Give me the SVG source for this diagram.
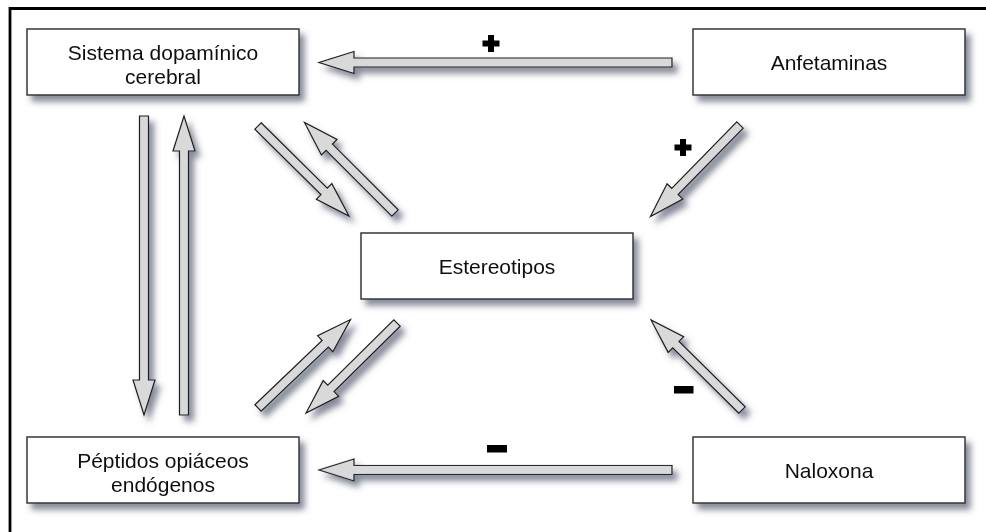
<svg xmlns="http://www.w3.org/2000/svg" xmlns:xlink="http://www.w3.org/1999/xlink" width="986" height="532" viewBox="0 0 986 532">
  <style>
    .box { fill: #ffffff; stroke: #2a2a2a; stroke-width: 1.4; }
    .lbl { font-family: "Liberation Sans", Arial, sans-serif; font-size: 21px; fill: #111111; text-anchor: middle; }
    .arr { fill: #d9d9d9; stroke: #1e1e1e; stroke-width: 1.2; stroke-linejoin: miter; }
    .sign { fill: #000000; }
    .frame { stroke: #000000; stroke-width: 2.8; fill: none; }
  </style>
  <defs>
    <filter id="shadow" x="-20%" y="-20%" width="150%" height="150%">
      <feGaussianBlur in="SourceAlpha" stdDeviation="3"/>
      <feOffset dx="5" dy="6" result="blur"/>
      <feFlood flood-color="#5f6578" flood-opacity="0.75"/>
      <feComposite in2="blur" operator="in"/>
      <feMerge>
        <feMergeNode/>
        <feMergeNode in="SourceGraphic"/>
      </feMerge>
    </filter>
    <!-- block arrows drawn along +x, tail at origin -->
    <path id="arrow-diag" d="M0,-4.5 H93 V-11 L128,0 L93,11 V4.5 H0 Z"/>
    <path id="arrow-horiz" d="M0,-4.5 H318 V-11 L353,0 L318,11 V4.5 H0 Z"/>
    <path id="arrow-vert" d="M0,-4.5 H264 V-11 L299,0 L264,11 V4.5 H0 Z"/>
  </defs>

  <rect width="986" height="532" fill="#ffffff"/>

  <!-- outer frame (top and left edges) -->
  <path class="frame" d="M10,532 V8.5 H986"/>

  <!-- connectors -->
  <g id="connectors" filter="url(#shadow)">
    <use class="arr" xlink:href="#arrow-horiz" transform="translate(672,62.5) rotate(180)"/>
    <use class="arr" xlink:href="#arrow-horiz" transform="translate(672,470) rotate(180)"/>
    <use class="arr" xlink:href="#arrow-vert" transform="translate(144,116) rotate(90)"/>
    <use class="arr" xlink:href="#arrow-vert" transform="translate(184,415) rotate(-90)"/>
    <use class="arr" xlink:href="#arrow-diag" transform="translate(258,126) rotate(44.7)"/>
    <use class="arr" xlink:href="#arrow-diag" transform="translate(395,213) rotate(-135)"/>
    <use class="arr" xlink:href="#arrow-diag" transform="translate(258,408) rotate(-43.7)"/>
    <use class="arr" xlink:href="#arrow-diag" transform="translate(397,323) rotate(135.3)"/>
    <use class="arr" xlink:href="#arrow-diag" transform="translate(740,125) rotate(134.4)"/>
    <use class="arr" xlink:href="#arrow-diag" transform="translate(742,410) rotate(-135.3)"/>
  </g>

  <!-- effect signs -->
  <g id="signs">
    <path class="sign" d="M488,35 h6 v5.5 h5.5 v6 h-5.5 v5.5 h-6 v-5.5 h-5.5 v-6 h5.5 Z"/>
    <path class="sign" d="M680,139 h6 v5.5 h5.5 v6 h-5.5 v5.5 h-6 v-5.5 h-5.5 v-6 h5.5 Z"/>
    <rect class="sign" x="487" y="445" width="20" height="7.5"/>
    <rect class="sign" x="674" y="386" width="19.5" height="7.5"/>
  </g>

  <g id="sistema-dopaminico" filter="url(#shadow)">
    <rect class="box" x="27" y="29" width="272" height="66"/>
    <text class="lbl" x="163" y="59.5">Sistema dopamínico</text>
    <text class="lbl" x="163" y="83.5">cerebral</text>
  </g>

  <g id="anfetaminas" filter="url(#shadow)">
    <rect class="box" x="693" y="29" width="272" height="66"/>
    <text class="lbl" x="829" y="69.5">Anfetaminas</text>
  </g>

  <g id="estereotipos" filter="url(#shadow)">
    <rect class="box" x="361" y="233" width="272" height="66"/>
    <text class="lbl" x="497" y="273.5">Estereotipos</text>
  </g>

  <g id="peptidos-opiaceos" filter="url(#shadow)">
    <rect class="box" x="27" y="437" width="272" height="66"/>
    <text class="lbl" x="163" y="467.5">Péptidos opiáceos</text>
    <text class="lbl" x="163" y="491.5">endógenos</text>
  </g>

  <g id="naloxona" filter="url(#shadow)">
    <rect class="box" x="693" y="437" width="272" height="66"/>
    <text class="lbl" x="829" y="477.5">Naloxona</text>
  </g>
</svg>
